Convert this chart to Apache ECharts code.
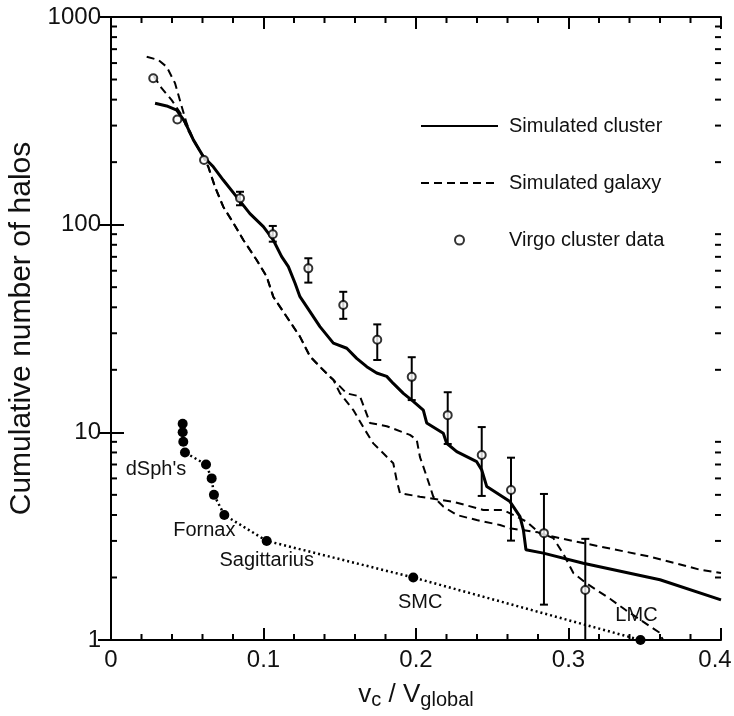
<!DOCTYPE html>
<html><head><meta charset="utf-8">
<script src="https://cdn.jsdelivr.net/npm/echarts@6/dist/echarts.min.js"></script>
<style>html,body{margin:0;padding:0;background:#fff}#c{width:734px;height:716px}</style>
</head><body><div id="c"></div>
<script>
// ---- data ----
const clusterX = [0.0289,0.0365,0.0431,0.0485,0.054,0.0605,0.0671,0.0736,0.0824,0.0911,0.0999,0.1064,0.1119,0.1163,0.1207,0.1239,0.1283,0.137,0.1458,0.1546,0.1611,0.1677,0.1742,0.1808,0.1851,0.1917,0.1982,0.2048,0.207,0.2179,0.2201,0.2267,0.2398,0.2431,0.2464,0.2616,0.2682,0.2704,0.2721,0.2835,0.3097,0.36,0.4];
const clusterY = [384,373,356,313,256,213,190,164,136,113,97.8,84.4,70.2,62.8,52.2,45,40.3,32.3,26.9,25.4,22.7,20.7,19.3,18.6,17.2,15.4,14.1,12.8,11.1,9.9,8.86,8.07,7.22,6.59,5.48,4.64,3.93,3.39,2.72,2.62,2.34,1.95,1.56];

const galaxyAX = [0.0234,0.031,0.0365,0.042,0.0464,0.0496,0.054,0.0605,0.0638,0.0682,0.0736,0.0802,0.0868,0.0955,0.1021,0.1064,0.1152,0.1239,0.1305,0.137,0.1436,0.1458,0.1502,0.1589,0.1654,0.172,0.1808,0.1851,0.1873,0.1895,0.2026,0.2245,0.2441,0.2572,0.266,0.2726,0.2813,0.2944,0.3206,0.3534,0.3862,0.4];
const galaxyAY = [644,621,576,480,370,308,256,213,190,152,122,102,84.4,67.6,56.2,45,36,28.9,23.2,20.7,18.5,17.9,15.4,12.8,10.6,8.85,7.63,7.1,5.9,5.09,4.9,4.63,4.23,4.23,3.93,3.71,3.26,3.09,2.82,2.52,2.18,2.1];

const galaxyBX = [0.028,0.0332,0.0398,0.046,0.05,0.054,0.0605,0.0638,0.0682,0.0736,0.0802,0.0868,0.0955,0.1021,0.1064,0.1152,0.1239,0.1305,0.137,0.1436,0.1458,0.1546,0.1633,0.1698,0.1808,0.196,0.2005,0.2026,0.2048,0.2092,0.2113,0.2179,0.2267,0.2398,0.2551,0.2616,0.28,0.29,0.2966,0.3032,0.3115,0.3272,0.3377,0.3593,0.362,0.4];
const galaxyBY = [520,454,398,340,290,256,213,190,152,122,102,84.4,67.6,56.2,45,36,28.9,23.2,20.7,18.5,17.9,15.4,14.9,11.1,10.7,9.72,9.2,7.6,6.84,5.48,4.9,4.39,4.0,3.78,3.58,3.45,3.3,3.1,2.6,2.1,1.88,1.58,1.39,1.09,1.0,1.0];

const virgoX  = [0.0277,0.0435,0.061,0.0846,0.1061,0.1294,0.1523,0.1746,0.1972,0.2208,0.2431,0.2623,0.2839,0.311];
const virgoY  = [507,321,205,134,90,61.6,41,27.9,18.5,12.1,7.78,5.28,3.27,1.74];
const virgoLo = [null,null,null,124,82.8,52.6,35.2,22.3,14.3,8.79,4.94,3.01,1.48,1.0];
const virgoHi = [null,null,null,144,98.6,68.9,47.5,33.1,23,15.6,10.6,7.55,5.05,3.07];

const satX = [0.047,0.047,0.0474,0.0485,0.0623,0.066,0.0675,0.0743,0.1021,0.1982,0.3472];
const satY = [11,10,9,8,7,6,5,4,3,2,1];
const satNames = ['','','','',"dSph's",'','','Fornax','Sagittarius','SMC','LMC'];

const xMinorTicks = [0.02,0.04,0.06,0.08,0.12,0.14,0.16,0.18,0.22,0.24,0.26,0.28,0.32,0.34,0.36,0.38];
const yMinorTicks = [2,3,4,5,6,7,8,9,20,30,40,50,60,70,80,90,200,300,400,500,600,700,800,900];

// ---- helpers ----
const zip = (xs, ys) => xs.map((x,i)=>[x, ys[i]]);
const FONT = 'Liberation Sans';
const labelOffsets = {"dSph's":[-50,5], 'Fornax':[-20,16], 'Sagittarius':[0,20], 'SMC':[7,25], 'LMC':[-4,-25]};
const TICKC = '#000';

const satData = satX.map((x,i)=>{
  const d = {value:[x, satY[i]]};
  const n = satNames[i];
  if (n) {
    d.label = {show:true, formatter:n, position:'inside', offset:labelOffsets[n],
      fontSize:20, fontFamily:FONT, color:'#111'};
  }
  return d;
});

const errData = virgoX.map((x,i)=>[x, virgoLo[i], virgoHi[i]]).filter(d=>d[1]!=null);

const chart = echarts.init(document.getElementById('c'));
const mkLine = () => ({show:true, lineStyle:{color:'#000', width:2}});
const mkTick = (len) => ({inside:true, length:len, lineStyle:{width:2,color:'#000'}});
chart.setOption({
  animation:false,
  backgroundColor:'#fff',
  grid:{left:111, right:13, top:17, bottom:76, outerBoundsMode:'none', containLabel:false},
  legend:{
    data:[
      {name:'Simulated cluster', itemStyle:{opacity:0}},
      {name:'Simulated galaxy', itemStyle:{opacity:0}},
      {name:'Virgo cluster data'}
    ],
    orient:'vertical', left:415, top:111, itemWidth:77, itemHeight:9, itemGap:37,
    textStyle:{fontSize:20, fontFamily:FONT, color:'#111', padding:[0,0,0,6]},
    selectedMode:false
  },
  xAxis:[{
    type:'value', min:0, max:0.4, interval:0.1,
    axisLine:mkLine(), splitLine:{show:false}, axisTick:mkTick(12),
    axisLabel:{fontSize:24, fontFamily:FONT, color:'#111', margin:8,
      formatter:v=> v===0.4 ? '{r|0.4}' : String(v),
      rich:{r:{fontSize:24, fontFamily:FONT, color:'#111', padding:[0,12,0,0]}}},
    name:'{a|v}{s|c}{a| / V}{s|global}', nameLocation:'middle', nameGap:42,
    nameTextStyle:{rich:{
      a:{fontSize:26, fontFamily:FONT, color:'#111', verticalAlign:'top', lineHeight:28},
      s:{fontSize:20, fontFamily:FONT, color:'#111', verticalAlign:'bottom', padding:[12,0,0,0], lineHeight:22}
    }}
  },{
    type:'value', min:0, max:0.4, interval:0.1, position:'top',
    axisLine:mkLine(), splitLine:{show:false}, axisLabel:{show:false}, axisTick:mkTick(12)
  }],
  yAxis:[{
    type:'log', min:1, max:1000, logBase:10,
    axisLine:mkLine(), splitLine:{show:false}, axisTick:mkTick(13),
    axisLabel:{fontSize:24, fontFamily:FONT, color:'#111', margin:10, formatter:v=>String(v)},
    name:'Cumulative number of halos', nameLocation:'middle', nameGap:68,
    nameTextStyle:{fontSize:30, fontFamily:FONT, color:'#111'}
  },{
    type:'log', min:1, max:1000, logBase:10, position:'right',
    axisLine:mkLine(), splitLine:{show:false}, axisLabel:{show:false}, axisTick:mkTick(13)
  }],
  series:[
    {name:'Simulated cluster', type:'line', data:zip(clusterX, clusterY), symbol:'none',
      lineStyle:{color:'#000', width:3}, itemStyle:{color:'#000'}, z:3},
    {name:'Simulated galaxy', type:'line', data:zip(galaxyAX, galaxyAY), symbol:'none',
      lineStyle:{color:'#000', width:2, type:[8,5]}, itemStyle:{color:'#000'}, z:3},
    {name:'Simulated galaxy', type:'line', data:zip(galaxyBX, galaxyBY), symbol:'none',
      lineStyle:{color:'#000', width:2, type:[8,5]}, itemStyle:{color:'#000'}, z:3},
    {name:'Virgo cluster data', type:'scatter', data:zip(virgoX, virgoY), symbol:'emptyCircle',
      symbolSize:8, itemStyle:{color:'#000', borderColor:'#000', borderWidth:2}, z:5},
    {name:'errors', type:'custom', data:errData, z:4,
      renderItem:(params, api)=>{
        const lo = api.coord([api.value(0), api.value(1)]);
        const hi = api.coord([api.value(0), api.value(2)]);
        const w = 4;
        return {type:'group', children:[
          {type:'line', shape:{x1:lo[0],y1:lo[1],x2:hi[0],y2:hi[1]}, style:{stroke:'#000', lineWidth:2}},
          {type:'line', shape:{x1:hi[0]-w,y1:hi[1],x2:hi[0]+w,y2:hi[1]}, style:{stroke:'#000', lineWidth:2}},
          {type:'line', shape:{x1:lo[0]-w,y1:lo[1],x2:lo[0]+w,y2:lo[1]}, style:{stroke:'#000', lineWidth:2}}
        ]};
      }},
    {name:'Milky Way', type:'line', data:satData, symbol:'circle', symbolSize:10,
      lineStyle:{color:'#000', width:2.5, type:[2,3]}, itemStyle:{color:'#000'}, z:4},
    {name:'yminor', type:'custom', data:yMinorTicks.map(v=>[0.2, v]), z:6, clip:false,
      renderItem:(params, api)=>{
        const cs = params.coordSys;
        const y = api.coord([api.value(0), api.value(1)])[1];
        const xl = cs.x, xr = cs.x + cs.width;
        return {type:'group', children:[
          {type:'line', shape:{x1:xl,y1:y,x2:xl+6,y2:y}, style:{stroke:TICKC, lineWidth:2}},
          {type:'line', shape:{x1:xr-6,y1:y,x2:xr,y2:y}, style:{stroke:TICKC, lineWidth:2}}
        ]};
      }},
    {name:'xminor', type:'custom', data:xMinorTicks.map(v=>[v, 10]), z:6, clip:false,
      renderItem:(params, api)=>{
        const cs = params.coordSys;
        const x = api.coord([api.value(0), api.value(1)])[0];
        const yt = cs.y, yb = cs.y + cs.height;
        return {type:'group', children:[
          {type:'line', shape:{x1:x,y1:yb,x2:x,y2:yb-6}, style:{stroke:TICKC, lineWidth:2}},
          {type:'line', shape:{x1:x,y1:yt,x2:x,y2:yt+6}, style:{stroke:TICKC, lineWidth:2}}
        ]};
      }}
  ]
});
</script></body></html>
